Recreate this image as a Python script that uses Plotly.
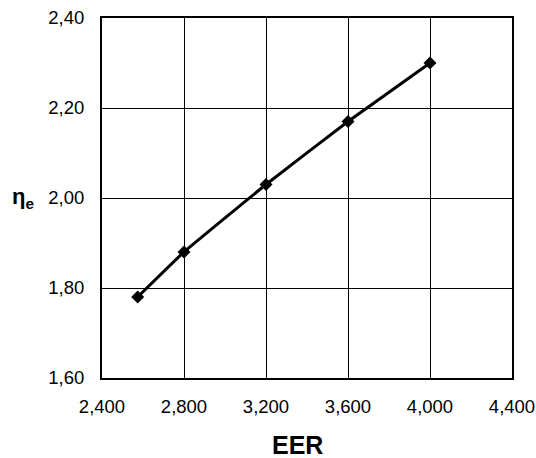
import plotly.graph_objects as go

eer = [2574, 2800, 3200, 3600, 4000]
eta_e = [1.78, 1.88, 2.03, 2.17, 2.30]

x_ticks = [2400, 2800, 3200, 3600, 4000, 4400]
x_labels = ["2,400", "2,800", "3,200", "3,600", "4,000", "4,400"]
y_ticks = [1.60, 1.80, 2.00, 2.20, 2.40]
y_labels = ["1,60", "1,80", "2,00", "2,20", "2,40"]

font = "Liberation Sans, Arial, sans-serif"

fig = go.Figure()
fig.add_trace(go.Scatter(
    x=eer, y=eta_e, mode="lines+markers",
    line=dict(color="black", width=3, shape="spline", smoothing=0.3),
    marker=dict(symbol="diamond", size=10, color="black"),
    showlegend=False,
))

fig.update_layout(
    width=536, height=458,
    margin=dict(l=102, r=24, t=18, b=80, autoexpand=False),
    paper_bgcolor="white", plot_bgcolor="white",
    font=dict(family=font, size=18.5, color="black"),
    xaxis=dict(range=[2400, 4400], tickvals=x_ticks, ticktext=x_labels,
               showgrid=True, gridcolor="black", gridwidth=1,
               showline=True, linecolor="black", linewidth=2, mirror=True,
               zeroline=False, ticks="", ticklabelstandoff=11,
               ticklabeloverflow="allow", automargin=False),
    yaxis=dict(range=[1.60, 2.40], tickvals=y_ticks, ticktext=y_labels,
               showgrid=True, gridcolor="black", gridwidth=1,
               showline=True, linecolor="black", linewidth=2, mirror=True,
               zeroline=False, ticks="", ticklabelstandoff=12,
               ticklabeloverflow="allow", automargin=False),
    annotations=[
        dict(text="<b>EER</b>", xref="paper", yref="paper", x=0.478, y=-0.186,
             xanchor="center", yanchor="middle", showarrow=False,
             font=dict(family=font, size=25)),
        dict(text="<b>η<sub>e</sub></b>", xref="paper", yref="paper", x=-0.224, y=0.5,
             xanchor="left", yanchor="middle", showarrow=False,
             font=dict(family=font, size=22)),
    ],
)

fig.write_html("out.html", config={"displayModeBar": False},
               post_script="document.body.style.margin='0px';document.body.style.overflow='hidden';")
